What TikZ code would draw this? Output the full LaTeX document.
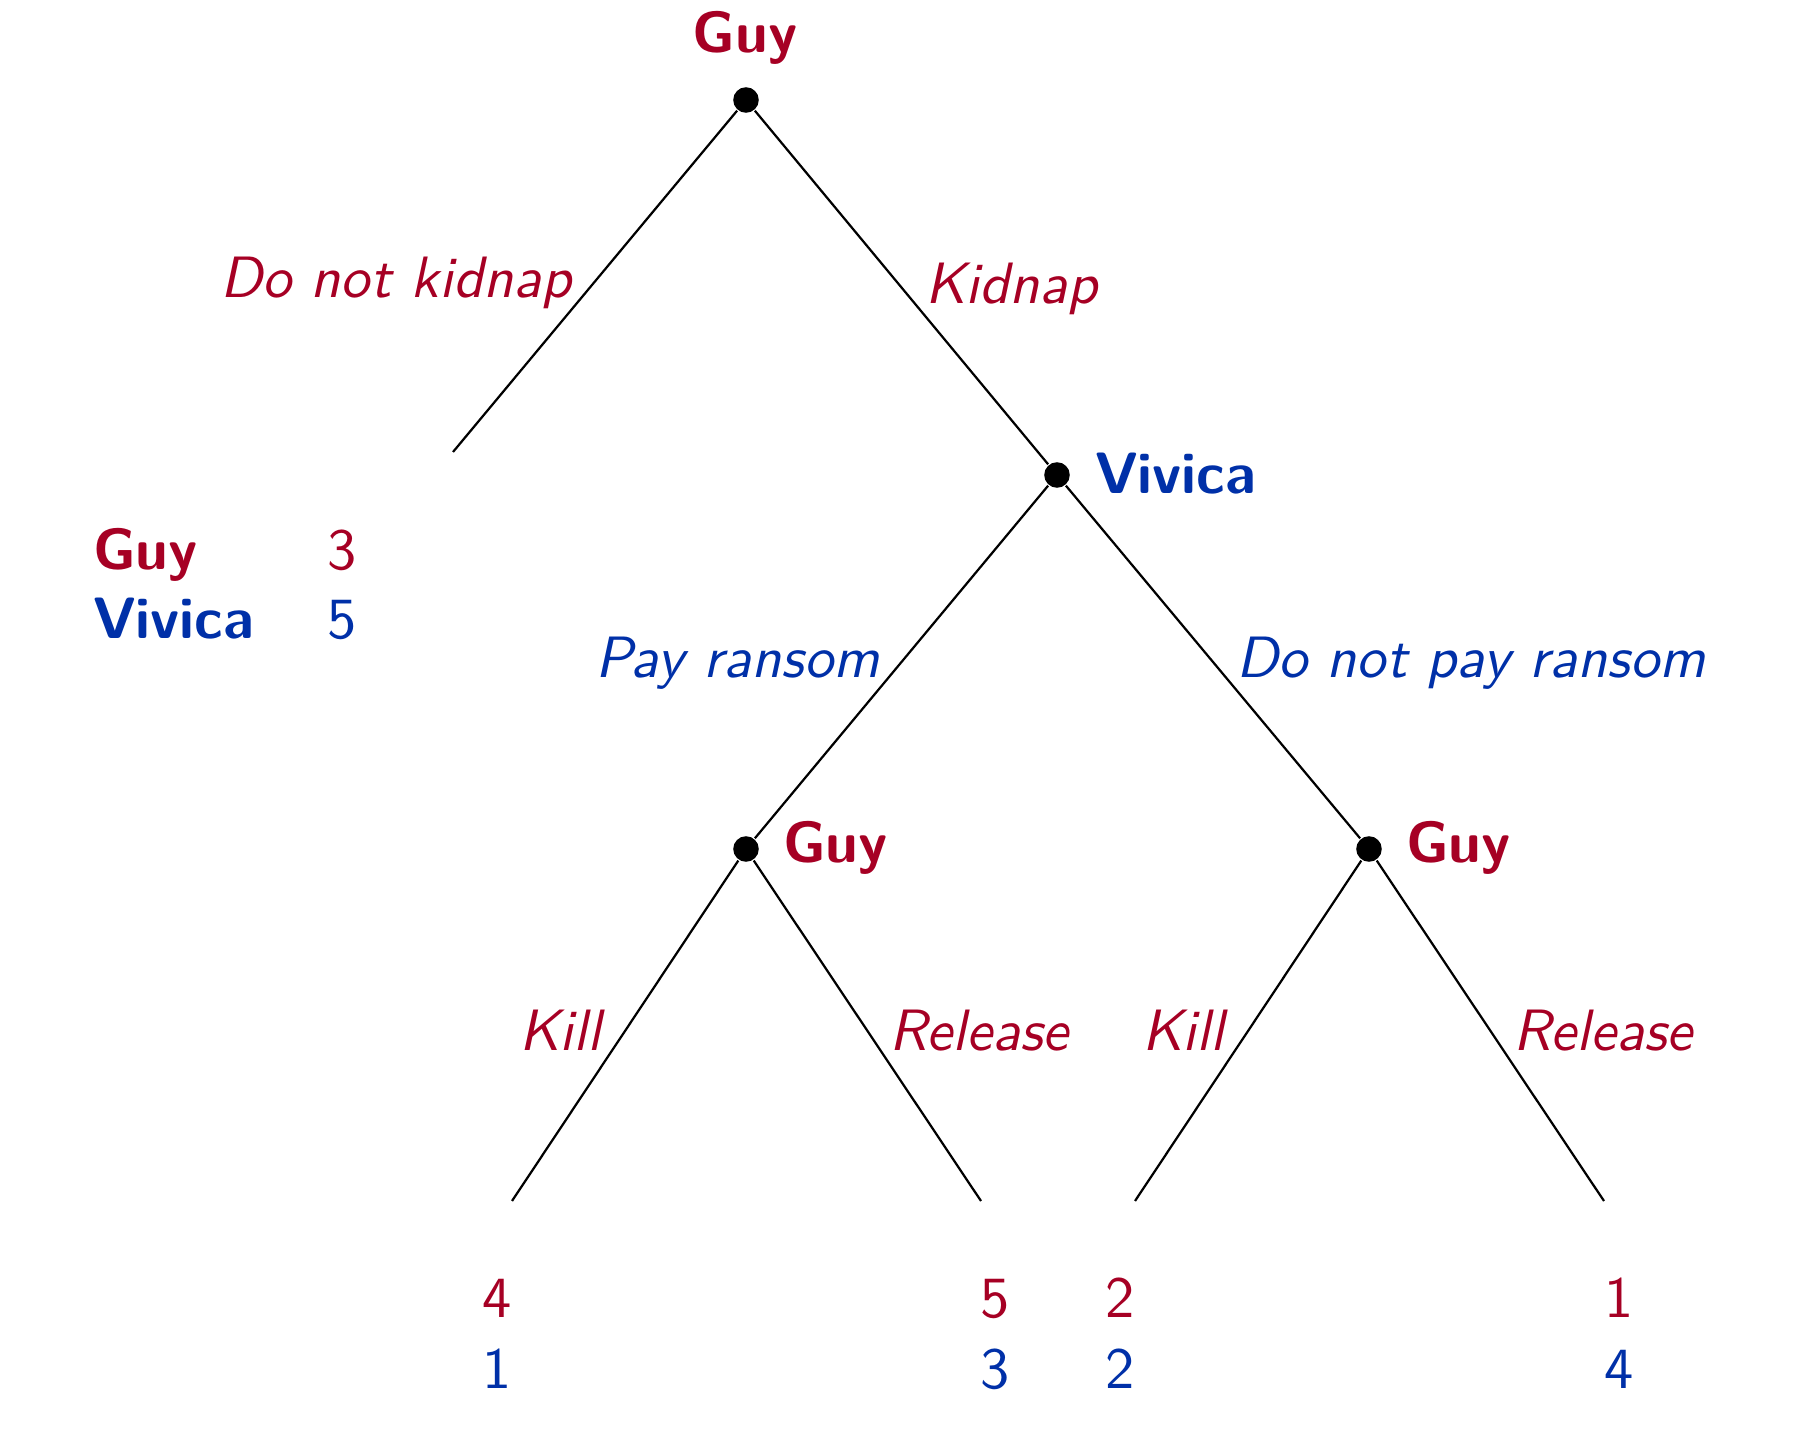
\documentclass[tikz,border=0pt]{standalone}
\definecolor{gred}{RGB}{166,0,36}
\definecolor{vblue}{RGB}{0,48,168}
\begin{document}
\begin{tikzpicture}[x=0.18pt,y=-0.18pt,
  dec/.style={circle,fill=black,inner sep=0pt,minimum size=4.6pt},
  edge/.style={draw=black,line width=0.4pt},
  pname/.style={font=\fontsize{10.5}{12.6}\selectfont\sffamily\bfseries,inner sep=0pt,anchor=base west},
  act/.style={font=\fontsize{10.5}{12.6}\selectfont\sffamily\itshape,inner sep=0pt,anchor=base west},
  pay/.style={font=\fontsize{10.5}{12.6}\selectfont\sffamily,inner sep=0pt,anchor=base},
  payl/.style={font=\fontsize{10.5}{12.6}\selectfont\sffamily,inner sep=0pt,anchor=base west}]
\useasboundingbox (0,0) rectangle (1812,1454);
% decision nodes
\node[dec] (r) at (746,100) {};
\node[dec] (v) at (1057,475) {};
\node[dec] (gl) at (746,849) {};
\node[dec] (gr) at (1369,849) {};
% leaf ends
\coordinate (dnk) at (453,452);
\coordinate (kl) at (512,1201);
\coordinate (rl) at (981,1201);
\coordinate (kr) at (1135,1201);
\coordinate (rr) at (1604,1201);
% edges
\draw[edge] (r) -- (dnk);
\draw[edge] (r) -- (v);
\draw[edge] (v) -- (gl);
\draw[edge] (v) -- (gr);
\draw[edge] (gl) -- (kl);
\draw[edge] (gl) -- (rl);
\draw[edge] (gr) -- (kr);
\draw[edge] (gr) -- (rr);
% player names
\node[pname,text=gred,anchor=base] (tr) at (745,53) {Guy};
\node[pname,text=vblue] (tv) at (1094,494) {Vivica};
\node[pname,text=gred] (tgl) at (782,863) {Guy};
\node[pname,text=gred] (tgr) at (1405,863) {Guy};
% actions
\node[act,text=gred] (a1) at (219,298) {Do not kidnap};
\node[act,text=gred] (a2) at (924,304) {Kidnap};
\node[act,text=vblue] (a3) at (594,678) {Pay ransom};
\node[act,text=vblue] (a4) at (1235,678) {Do not pay ransom};
\node[act,text=gred] (a5) at (518,1051) {Kill};
\node[act,text=gred] (a6) at (888,1051) {Release};
\node[act,text=gred] (a7) at (1141,1051) {Kill};
\node[act,text=gred] (a8) at (1512,1051) {Release};
% payoffs for do not kidnap
\node[pname,text=gred] (pg) at (92,570) {Guy};
\node[pname,text=vblue] (pv) at (92,639) {Vivica};
\node[payl,text=gred] (pg3) at (326,570) {3};
\node[payl,text=vblue] (pv5) at (326,639) {5};
% leaf payoffs
\node[pay,text=gred] (l1g) at (497,1318) {4};
\node[pay,text=vblue] (l1v) at (497,1388) {1};
\node[pay,text=gred] (l2g) at (995,1318) {5};
\node[pay,text=vblue] (l2v) at (995,1388) {3};
\node[pay,text=gred] (l3g) at (1120,1318) {2};
\node[pay,text=vblue] (l3v) at (1120,1388) {2};
\node[pay,text=gred] (l4g) at (1619,1318) {1};
\node[pay,text=vblue] (l4v) at (1619,1388) {4};
\end{tikzpicture}
\end{document}
